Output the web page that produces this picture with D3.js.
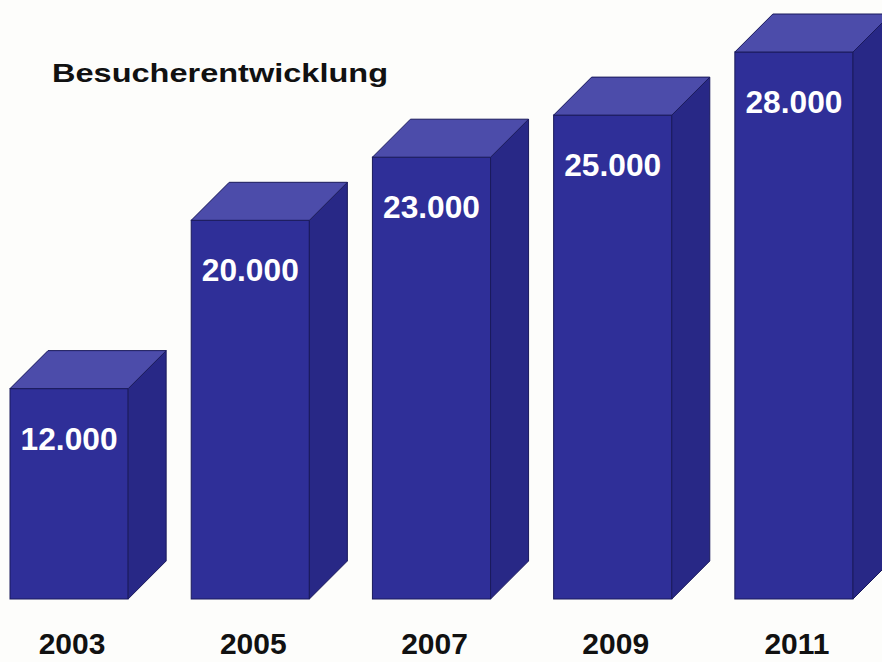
<!DOCTYPE html>
<html>
<head>
<meta charset="utf-8">
<script src="https://cdn.jsdelivr.net/npm/d3@7"></script>
<style>
  body { margin: 0; background: #fdfdfb; }
  text { font-family: Arial, "Liberation Sans", sans-serif; font-weight: bold; }
</style>
</head>
<body>
<script>
// Data
const years = ["2003", "2005", "2007", "2009", "2011"];
const visitors = [12000, 20000, 23000, 25000, 28000];
const labels = ["12.000", "20.000", "23.000", "25.000", "28.000"];

const width = 882, height = 662;
const depthX = 38, depthY = 38;

const svg = d3.select("body")
    .append("svg")
    .attr("width", width)
    .attr("height", height);

const x = d3.scaleBand()
    .domain(years)
    .range([10, 853])
    .paddingInner(0.348)
    .paddingOuter(0);

const y = d3.scaleLinear()
    .domain([2000, 28000])
    .range([599, 52]);

const data = years.map((yr, i) => ({ year: yr, value: visitors[i], label: labels[i] }));

const bar = svg.selectAll(".bar")
    .data(data)
    .enter()
    .append("g")
    .attr("class", "bar");

// front face
bar.append("rect")
    .attr("x", d => x(d.year))
    .attr("y", d => y(d.value))
    .attr("width", x.bandwidth())
    .attr("height", d => y(2000) - y(d.value))
    .attr("fill", "#2f2f98")
    .attr("stroke", "#1a1a5c")
    .attr("stroke-width", 1);

// side face
bar.append("polygon")
    .attr("points", d => {
        const x1 = x(d.year) + x.bandwidth();
        const t = y(d.value), b = y(2000);
        return [[x1, t], [x1 + depthX, t - depthY], [x1 + depthX, b - depthY], [x1, b]].join(" ");
    })
    .attr("fill", "#282886")
    .attr("stroke", "#1a1a5c")
    .attr("stroke-width", 1);

// top face
bar.append("polygon")
    .attr("points", d => {
        const x0 = x(d.year), x1 = x0 + x.bandwidth();
        const t = y(d.value);
        return [[x0, t], [x0 + depthX, t - depthY], [x1 + depthX, t - depthY], [x1, t]].join(" ");
    })
    .attr("fill", "#4c4caa")
    .attr("stroke", "#1a1a5c")
    .attr("stroke-width", 1);

// value labels
bar.append("text")
    .attr("x", d => x(d.year) + x.bandwidth() / 2)
    .attr("y", d => y(d.value) + 61)
    .attr("text-anchor", "middle")
    .attr("font-size", 31)
    .attr("fill", "#ffffff")
    .attr("textLength", 97)
    .attr("lengthAdjust", "spacingAndGlyphs")
    .text(d => d.label);

// year labels
svg.selectAll(".year")
    .data(data)
    .enter()
    .append("text")
    .attr("class", "year")
    .attr("x", d => x(d.year) + x.bandwidth() / 2 + 3)
    .attr("y", 654)
    .attr("text-anchor", "middle")
    .attr("font-size", 30)
    .attr("fill", "#111111")
    .text(d => d.year);

// title
svg.append("text")
    .attr("x", 52)
    .attr("y", 82)
    .attr("font-size", 26)
    .attr("fill", "#111111")
    .attr("textLength", 336)
    .attr("lengthAdjust", "spacingAndGlyphs")
    .text("Besucherentwicklung");
</script>
</body>
</html>
